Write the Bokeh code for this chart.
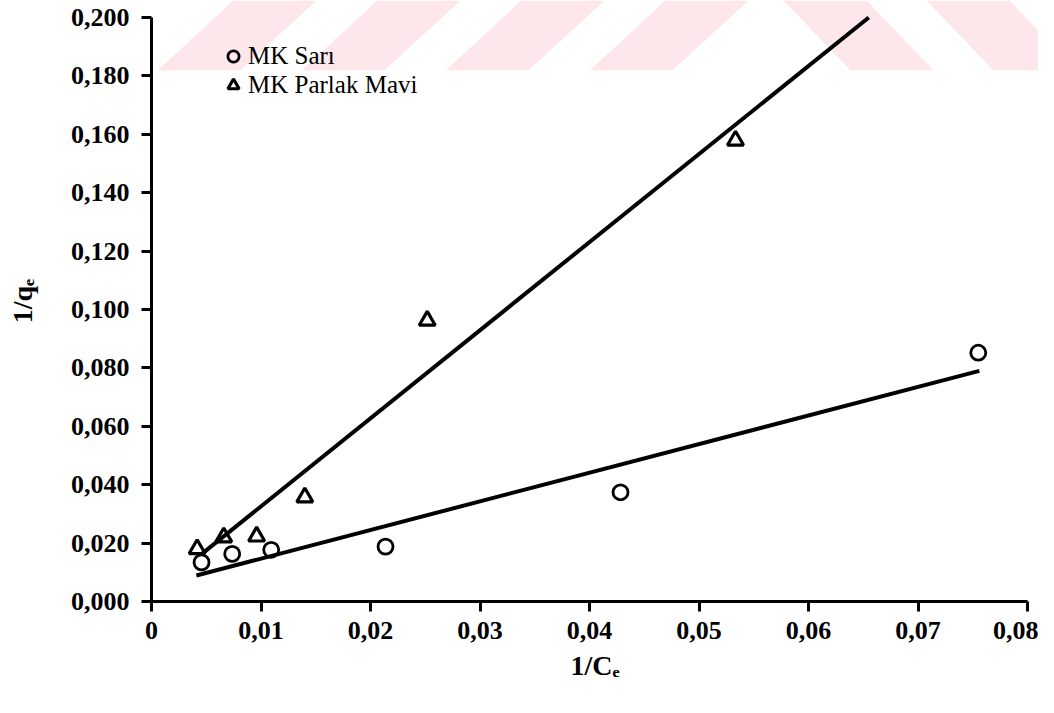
from bokeh.plotting import figure
from bokeh.models import FixedTicker, Legend, LegendItem, Range1d
from bokeh.embed import file_html
from bokeh.resources import INLINE

# ---- data ----
sari_x = [0.00457, 0.00737, 0.01093, 0.02137, 0.04283, 0.0755]
sari_y = [0.0134, 0.0163, 0.0177, 0.0188, 0.0374, 0.0852]
mavi_x = [0.00417, 0.0066, 0.0096, 0.0140, 0.02518, 0.05333]
mavi_y = [0.0180, 0.0220, 0.0223, 0.0357, 0.0962, 0.1579]

sari_fit_x = [0.0041, 0.0756]
sari_fit_y = [0.0089, 0.0790]
mavi_fit_x = [0.0046, 0.0655]
mavi_fit_y = [0.0163, 0.2000]

x_ticks = [0.0, 0.01, 0.02, 0.03, 0.04, 0.05, 0.06, 0.07, 0.08]
x_tick_labels = ["0", "0,01", "0,02", "0,03", "0,04", "0,05", "0,06", "0,07", "0,08"]
y_ticks = [0.0, 0.02, 0.04, 0.06, 0.08, 0.1, 0.12, 0.14, 0.16, 0.18, 0.2]
y_tick_labels = ["0,000", "0,020", "0,040", "0,060", "0,080", "0,100",
                 "0,120", "0,140", "0,160", "0,180", "0,200"]

series_names = ["MK Sar\u0131", "MK Parlak Mavi"]

FONT = "Liberation Serif"

p = figure(width=1038, height=697, output_backend="svg", toolbar_location=None,
           x_range=Range1d(0, 0.0810), y_range=Range1d(0, 0.20582),
           min_border_left=151, min_border_right=0, min_border_top=0,
           min_border_bottom=96)
p.outline_line_color = None
p.xgrid.visible = False
p.ygrid.visible = False
p.background_fill_color = "white"

# ---- faint pink scan watermark band at the top ----
def _dx(px):
    return (px - 151) / 10950.0

def _dy(py):
    return (601 - py) / 2920.0

wm_xs, wm_ys = [], []
for b in [157, 301, 445, 589]:           # "/" stripes
    wm_xs.append([_dx(b), _dx(b + 83), _dx(b + 83 + 76), _dx(b + 76)])
    wm_ys.append([_dy(70), _dy(70), _dy(0), _dy(0)])
for b in [850, 993]:                     # "\" stripes
    wm_xs.append([_dx(b), _dx(b + 83), _dx(b + 83 - 67), _dx(b - 67)])
    wm_ys.append([_dy(70), _dy(70), _dy(0), _dy(0)])
p.patches(wm_xs, wm_ys, fill_color="#fde7eb", line_color=None, level="underlay")

# ---- fitted lines ----
p.line(sari_fit_x, sari_fit_y, line_color="black", line_width=4)
p.line(mavi_fit_x, mavi_fit_y, line_color="black", line_width=4)

# ---- points ----
r_sari = p.scatter(sari_x, sari_y, marker="circle", size=15, fill_color=None,
                   line_color="black", line_width=2.8)
r_mavi = p.scatter(mavi_x, mavi_y, marker="triangle", size=16, fill_color=None,
                   line_color="black", line_width=3.2)

# ---- axes ----
for ax, ticks, labels in [(p.xaxis, x_ticks, x_tick_labels), (p.yaxis, y_ticks, y_tick_labels)]:
    ax.ticker = FixedTicker(ticks=ticks, minor_ticks=[])
    ax.major_label_overrides = dict(zip(ticks, labels))
    ax.axis_line_width = 3
    ax.axis_line_color = "black"
    ax.major_tick_line_width = 3
    ax.major_tick_line_color = "black"
    ax.major_tick_out = 10
    ax.major_tick_in = 0
    ax.minor_tick_line_color = None
    ax.major_label_text_font = FONT
    ax.major_label_text_font_size = "26px"
    ax.major_label_text_font_style = "bold"
    ax.major_label_text_color = "black"
    ax.axis_label_text_font = FONT
    ax.axis_label_text_font_size = "28px"
    ax.axis_label_text_font_style = "bold"
    ax.axis_label_text_color = "black"

p.xaxis.bounds = (0, 0.08)
p.yaxis.bounds = (0, 0.2)
p.xaxis.major_label_standoff = 10
p.yaxis.major_label_standoff = 12
p.xaxis.axis_label = "1/C\u2091"
p.yaxis.axis_label = "1/q\u2091"
p.xaxis.axis_label_standoff = 8
p.yaxis.axis_label_standoff = 30

# ---- legend ----
legend = Legend(items=[LegendItem(label=series_names[0], renderers=[r_sari]),
                       LegendItem(label=series_names[1], renderers=[r_mavi])],
                location=(67, 502), glyph_width=30, glyph_height=28,
                label_height=28, spacing=1, label_standoff=0, padding=0,
                margin=0, border_line_color=None, background_fill_alpha=0,
                label_text_font=FONT, label_text_font_size="25px",
                label_text_color="black")
p.add_layout(legend)

open("out.html", "w").write(file_html(p, INLINE))
